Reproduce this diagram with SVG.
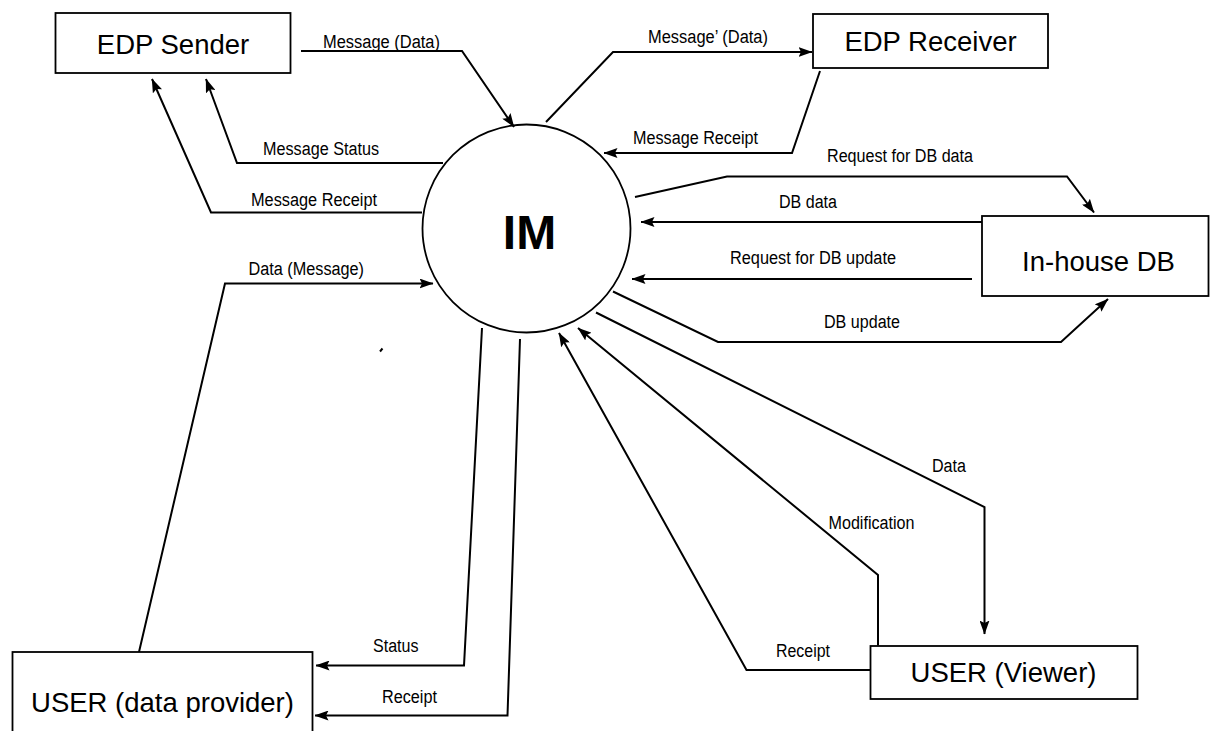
<svg xmlns="http://www.w3.org/2000/svg" width="1210" height="731" viewBox="0 0 1210 731">
<style>
.box{fill:#fff;stroke:#000;stroke-width:1.8}
.nl{font-family:"Liberation Sans",Arial,sans-serif;font-size:27.5px;fill:#000;text-anchor:middle}
.im{font-family:"Liberation Sans",Arial,sans-serif;font-size:48px;font-weight:bold;fill:#000;text-anchor:middle}
.lb{font-family:"Liberation Sans",Arial,sans-serif;font-size:18px;fill:#000}
.c{fill:none;stroke:#000;stroke-width:2;stroke-linejoin:miter}
.a{marker-end:url(#arr)}
</style>
<defs>
<marker id="arr" viewBox="0 0 14 10" markerWidth="14" markerHeight="10" refX="13.5" refY="5" orient="auto" markerUnits="userSpaceOnUse">
<path d="M0,0 L14,5 L0,10 L2.5,5 z" fill="#000"/>
</marker>
</defs>
<rect width="1210" height="731" fill="#fff"/>
<g id="connectors">
<path class="c a" d="M301,51 L462,51 L514,127"/>
<path class="c a" d="M546,122 L613,52 L812,52"/>
<path class="c a" d="M820,71 L792,153 L604,153"/>
<path class="c a" d="M443,163 L237,163 L206,79"/>
<path class="c a" d="M422,212.5 L211,212.5 L152,79"/>
<path class="c a" d="M635,197 L727,176.5 L1067,176.5 L1094,212.5"/>
<path class="c a" d="M982,222 L641,222"/>
<path class="c a" d="M972,279 L632,279"/>
<path class="c a" d="M613,291.5 L718,342 L1061,342 L1108,299"/>
<path class="c a" d="M139,652 L225,283.5 L433,283.5"/>
<path class="c a" d="M482,328 L464,665.5 L316,665.5"/>
<path class="c a" d="M520,339 L507.5,715.5 L315,715.5"/>
<path class="c a" d="M596,312.5 L984.5,507 L984.5,634"/>
<path class="c a" d="M878,645.5 L878,575 L578,328"/>
<path class="c a" d="M870,670 L746.5,670 L559,333"/>
<path class="c" d="M380,351.5 L382.5,348.5"/>
</g>
<g id="labels">
<text class="lb" x="323" y="48" textLength="117" lengthAdjust="spacingAndGlyphs">Message (Data)</text>
<text class="lb" x="263" y="155" textLength="116" lengthAdjust="spacingAndGlyphs">Message Status</text>
<text class="lb" x="251" y="206" textLength="126" lengthAdjust="spacingAndGlyphs">Message Receipt</text>
<text class="lb" x="648" y="43" textLength="120" lengthAdjust="spacingAndGlyphs">Message’ (Data)</text>
<text class="lb" x="633" y="144" textLength="125" lengthAdjust="spacingAndGlyphs">Message Receipt</text>
<text class="lb" x="827" y="161.5" textLength="146" lengthAdjust="spacingAndGlyphs">Request for DB data</text>
<text class="lb" x="779" y="207.5" textLength="58" lengthAdjust="spacingAndGlyphs">DB data</text>
<text class="lb" x="730" y="264" textLength="166" lengthAdjust="spacingAndGlyphs">Request for DB update</text>
<text class="lb" x="824" y="328" textLength="76" lengthAdjust="spacingAndGlyphs">DB update</text>
<text class="lb" x="248.5" y="275" textLength="115.5" lengthAdjust="spacingAndGlyphs">Data (Message)</text>
<text class="lb" x="373" y="652" textLength="45.5" lengthAdjust="spacingAndGlyphs">Status</text>
<text class="lb" x="382" y="703" textLength="55" lengthAdjust="spacingAndGlyphs">Receipt</text>
<text class="lb" x="932" y="472" textLength="34" lengthAdjust="spacingAndGlyphs">Data</text>
<text class="lb" x="828.5" y="529" textLength="86" lengthAdjust="spacingAndGlyphs">Modification</text>
<text class="lb" x="776" y="657" textLength="54" lengthAdjust="spacingAndGlyphs">Receipt</text>
</g>
<g id="node-edp-sender">
<rect class="box" x="55.5" y="13" width="235" height="60"/>
<text class="nl" x="173" y="54">EDP Sender</text>
</g>
<g id="node-edp-receiver">
<rect class="box" x="813" y="14" width="235" height="54"/>
<text class="nl" x="930.5" y="51">EDP Receiver</text>
</g>
<g id="node-inhouse-db">
<rect class="box" x="982" y="216" width="226.5" height="80"/>
<text class="nl" x="1098.5" y="271">In-house DB</text>
</g>
<g id="node-user-provider">
<rect class="box" x="12.5" y="652" width="300" height="90"/>
<text class="nl" x="162.5" y="712">USER (data provider)</text>
</g>
<g id="node-user-viewer">
<rect class="box" x="870.5" y="646" width="267" height="53"/>
<text class="nl" x="1003.5" y="682">USER (Viewer)</text>
</g>
<g id="node-im">
<circle cx="526.5" cy="228.5" r="104" fill="none" stroke="#000" stroke-width="1.8"/>
<text class="im" x="529.5" y="249">IM</text>
</g>
</svg>
